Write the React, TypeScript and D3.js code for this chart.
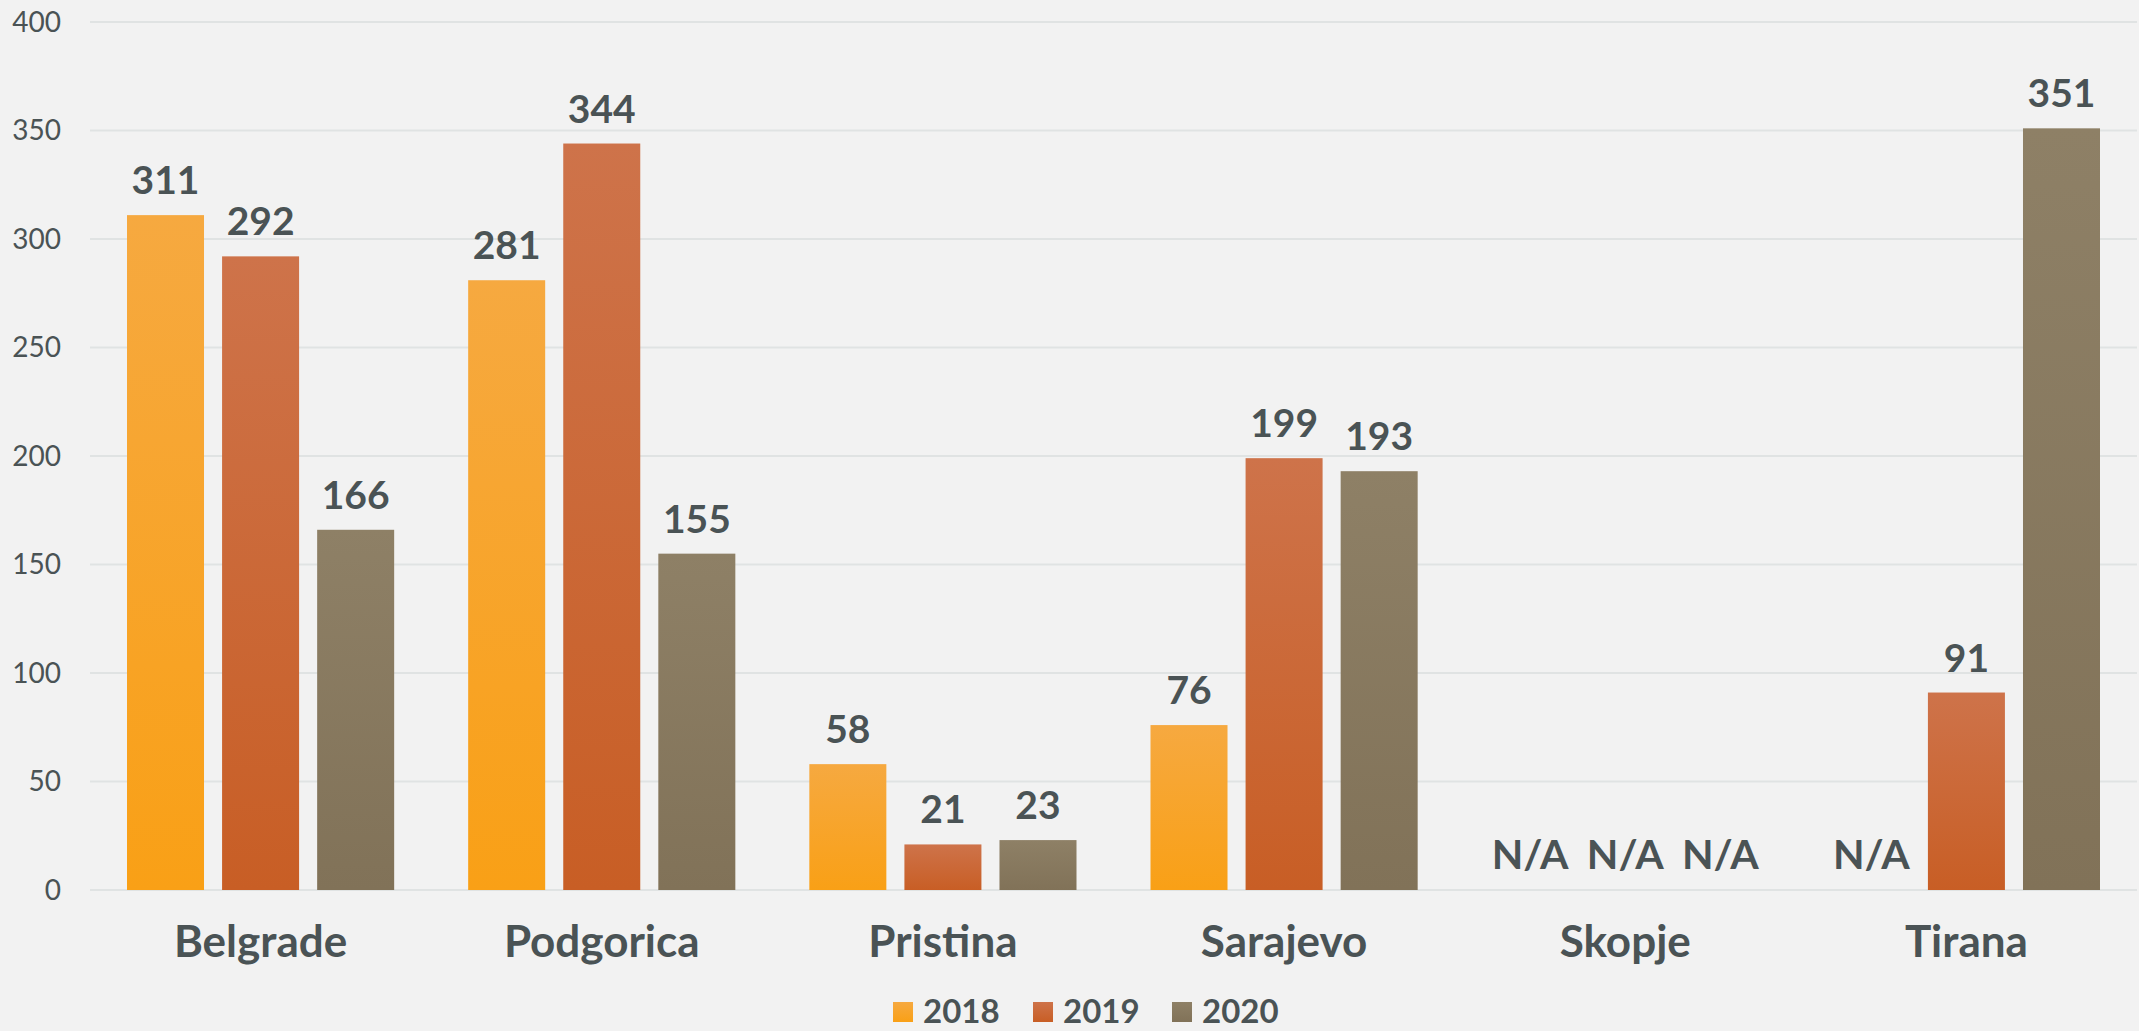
import * as d3 from 'd3';

const categories = ['Belgrade', 'Podgorica', 'Pristina', 'Sarajevo', 'Skopje', 'Tirana'];
const seriesNames = ['2018', '2019', '2020'];
const values2018 = [311, 281, 58, 76, null, null];
const values2019 = [292, 344, 21, 199, null, 91];
const values2020 = [166, 155, 23, 193, null, 351];
const yTicks = [0, 50, 100, 150, 200, 250, 300, 350, 400];

// top / bottom colours of each series' vertical gradient
const colorsTop = ['#F6A940', '#CE734A', '#8E8066'];
const colorsBottom = ['#F9A016', '#C85E25', '#817258'];

const W = 2139;
const H = 1031;
const margin = { top: 22, right: 2, bottom: 141, left: 90 };
const textColor = '#4A5355';
const font = 'Lato, "Open Sans", sans-serif';

export default function App() {
  const series = [values2018, values2019, values2020];

  const x0 = d3.scaleBand<string>()
    .domain(categories)
    .range([margin.left, W - margin.right])
    .padding(0);

  const groupPad = 37;
  const x1 = d3.scaleBand<string>()
    .domain(seriesNames)
    .range([groupPad, x0.bandwidth() - groupPad])
    .paddingInner(0.19)
    .paddingOuter(0);

  const y = d3.scaleLinear()
    .domain([0, 400])
    .range([H - margin.bottom, margin.top]);

  const legendX = [893, 1033, 1172];

  return (
    <div style={{ position: 'absolute', left: 0, top: 0 }}>
      <svg width={W} height={H} style={{ display: 'block', background: '#F2F2F2' }}>
        <defs>
          {seriesNames.map((s, i) => (
            <linearGradient key={s} id={'grad' + s} x1="0" y1="0" x2="0" y2="1">
              <stop offset="0%" stopColor={colorsTop[i]} />
              <stop offset="100%" stopColor={colorsBottom[i]} />
            </linearGradient>
          ))}
        </defs>

        {yTicks.map((t) => (
          <g key={t}>
            <line x1={margin.left} x2={W - margin.right} y1={y(t)} y2={y(t)}
              stroke="#E0E3E3" strokeWidth={2} />
            <text x={61} y={y(t)} dy="0.35em" textAnchor="end" fontFamily={font}
              fontSize={28} fill={textColor}>{t}</text>
          </g>
        ))}

        {categories.map((c, ci) => (
          <g key={c} transform={`translate(${x0(c)},0)`}>
            {seriesNames.map((s, si) => {
              const v = series[si][ci];
              const bx = x1(s)!;
              const cx = bx + x1.bandwidth() / 2;
              if (v == null) {
                return (
                  <text key={s} x={cx} y={y(0) - 21} textAnchor="middle" fontFamily={font}
                    fontWeight={700} fontSize={41} fill={textColor}>N/A</text>
                );
              }
              return (
                <g key={s}>
                  <rect x={bx} y={y(v)} width={x1.bandwidth()} height={y(0) - y(v)}
                    fill={`url(#grad${s})`} />
                  <text x={cx} y={y(v) - 21} textAnchor="middle" fontFamily={font}
                    fontWeight={700} fontSize={39} fill={textColor}>{v}</text>
                </g>
              );
            })}
            <text x={x0.bandwidth() / 2} y={957} textAnchor="middle" fontFamily={font}
              fontWeight={700} fontSize={44} fill={textColor}>{c}</text>
          </g>
        ))}

        {seriesNames.map((s, i) => (
          <g key={s}>
            <rect x={legendX[i]} y={1002} width={20} height={20} fill={`url(#grad${s})`} />
            <text x={legendX[i] + 30} y={1023} fontFamily={font} fontWeight={700}
              fontSize={33} fill={textColor}>{s}</text>
          </g>
        ))}
      </svg>
    </div>
  );
}
